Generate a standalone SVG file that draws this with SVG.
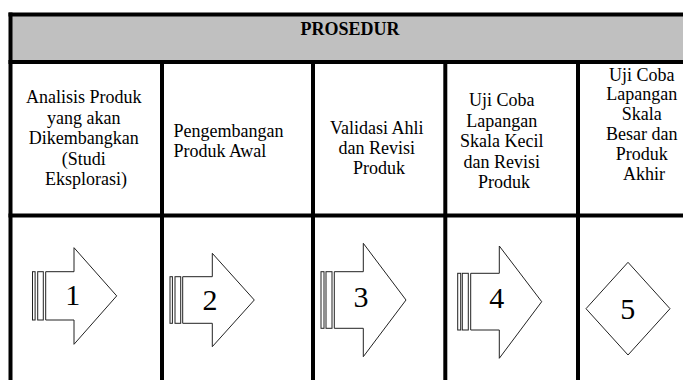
<svg xmlns="http://www.w3.org/2000/svg" width="683" height="380" viewBox="0 0 683 380">
  <style>
    .grid { stroke: #000; stroke-width: 4; fill: none; }
    .cell { font-family: "Liberation Serif", "Times New Roman", serif; font-size: 18px; fill: #000; }
    .mid { text-anchor: middle; }
    .head { font-weight: bold; }
    .shape { fill: #fff; stroke: #222; stroke-width: 1; }
    .num { font-family: "Liberation Serif", "Times New Roman", serif; font-size: 30px; fill: #000; text-anchor: middle; }
  </style>

  <rect x="0" y="0" width="683" height="380" fill="#fff"/>

  <!-- header band -->
  <g id="header">
    <rect x="10.5" y="14.5" width="680" height="47.5" fill="#c0c0c0"/>
    <text class="cell head mid" x="350" y="35">PROSEDUR</text>
  </g>

  <!-- table rules -->
  <g id="table-grid" class="grid">
    <line x1="8.5" y1="14.5" x2="683" y2="14.5"/>
    <line x1="10.5" y1="12.5" x2="10.5" y2="380"/>
    <line x1="8.5" y1="62" x2="683" y2="62"/>
    <line x1="8.5" y1="215.5" x2="683" y2="215.5"/>
    <line x1="162" y1="62" x2="162" y2="380"/>
    <line x1="313" y1="62" x2="313" y2="380"/>
    <line x1="445.3" y1="62" x2="445.3" y2="380"/>
    <line x1="578" y1="62" x2="578" y2="380"/>
  </g>

  <!-- step 1 -->
  <g id="step-1">
    <text class="cell mid">
      <tspan x="86" y="103">Analisis Produk</tspan>
      <tspan x="86" y="123.5">yang akan</tspan>
      <tspan x="86" y="144">Dikembangkan</tspan>
      <tspan x="86" y="164.5">(Studi</tspan>
      <tspan x="86" y="185">Eksplorasi)</tspan>
    </text>
    <rect class="shape" x="32.5" y="271.7" width="2.6" height="48.3"/>
    <rect class="shape" x="37.7" y="271.7" width="5.6" height="48.3"/>
    <polygon class="shape" points="45.7,271.7 74,271.7 74,247.7 116.7,295.9 74,344.3 74,320 45.7,320"/>
    <text class="num" x="72.7" y="305">1</text>
  </g>

  <!-- step 2 -->
  <g id="step-2">
    <text class="cell">
      <tspan x="173.5" y="137">Pengembangan</tspan>
      <tspan x="173.5" y="157">Produk Awal</tspan>
    </text>
    <rect class="shape" x="170" y="276.7" width="2.4" height="46.6"/>
    <rect class="shape" x="175" y="276.7" width="5.7" height="46.6"/>
    <polygon class="shape" points="182.7,276.7 212.3,276.7 212.3,253.3 254.3,300 212.3,346.7 212.3,323.3 182.7,323.3"/>
    <text class="num" x="210" y="310">2</text>
  </g>

  <!-- step 3 -->
  <g id="step-3">
    <text class="cell mid">
      <tspan x="379" y="134">Validasi Ahli</tspan>
      <tspan x="379" y="154">dan Revisi</tspan>
      <tspan x="379" y="174">Produk</tspan>
    </text>
    <rect class="shape" x="321" y="271.7" width="3" height="56.6"/>
    <rect class="shape" x="326" y="271.7" width="6" height="56.6"/>
    <polygon class="shape" points="334.3,271.7 363.3,271.7 363.3,243.3 406,300 363.3,356.7 363.3,328.3 334.3,328.3"/>
    <text class="num" x="361" y="306.5">3</text>
  </g>

  <!-- step 4 -->
  <g id="step-4">
    <text class="cell mid">
      <tspan x="504" y="106">Uji Coba</tspan>
      <tspan x="504" y="126.5">Lapangan</tspan>
      <tspan x="504" y="147">Skala Kecil</tspan>
      <tspan x="504" y="167.5">dan Revisi</tspan>
      <tspan x="504" y="188">Produk</tspan>
    </text>
    <rect class="shape" x="457.7" y="273.3" width="3" height="56.7"/>
    <rect class="shape" x="462.3" y="273.3" width="6" height="56.7"/>
    <polygon class="shape" points="470.7,273.3 499.3,273.3 499.3,246 541.7,301.7 499.3,358.3 499.3,330 470.7,330"/>
    <text class="num" x="496.7" y="308">4</text>
  </g>

  <!-- step 5 -->
  <g id="step-5">
    <text class="cell mid">
      <tspan x="644" y="80.5">Uji Coba</tspan>
      <tspan x="644" y="100.3">Lapangan</tspan>
      <tspan x="644" y="120.1">Skala</tspan>
      <tspan x="644" y="139.9">Besar dan</tspan>
      <tspan x="644" y="159.7">Produk</tspan>
      <tspan x="644" y="179.5">Akhir</tspan>
    </text>
    <polygon class="shape" points="628,262.3 670,308.7 628,355 586,308.7"/>
    <text class="num" x="627.7" y="319">5</text>
  </g>
</svg>
